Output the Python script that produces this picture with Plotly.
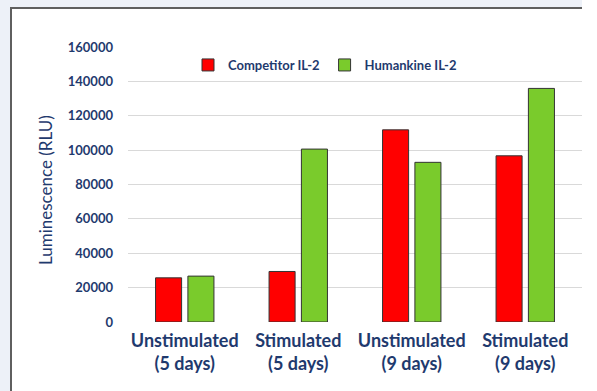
import plotly.graph_objects as go

# Luminescence readout per condition
categories = ["Unstimulated<br>(5 days)", "Stimulated<br>(5 days)",
              "Unstimulated<br>(9 days)", "Stimulated<br>(9 days)"]
competitor_il2 = [25700, 29400, 111800, 96700]
humankine_il2 = [26700, 100600, 92900, 135900]
y_ticks = [0, 20000, 40000, 60000, 80000, 100000, 120000, 140000, 160000]

NAVY = "#1f3a6e"
FRAME_BG = "#edf1f8"
W, H = 582, 391
ML, MR, MT, MB = 128, 0, 47, 69

fig = go.Figure()
fig.add_trace(go.Bar(
    name="Competitor IL-2", x=categories, y=competitor_il2,
    marker=dict(color="#ff0000", line=dict(color="#333333", width=1)),
))
fig.add_trace(go.Bar(
    name="Humankine IL-2", x=categories, y=humankine_il2,
    marker=dict(color="#7acb2c", line=dict(color="#333333", width=1)),
))

pw = W - ML - MR
ph = H - MT - MB


def px_x(px):
    return (px - ML) / pw


def px_y(py):
    return 1 - (py - MT) / ph


frame_shapes = [
    # light page strips above and left of the white panel
    dict(type="rect", xref="paper", yref="paper", layer="below",
         x0=px_x(-5), x1=px_x(W + 20), y0=px_y(7), y1=px_y(-5),
         fillcolor=FRAME_BG, line=dict(width=0)),
    dict(type="rect", xref="paper", yref="paper", layer="below",
         x0=px_x(-5), x1=px_x(10), y0=px_y(H + 5), y1=px_y(-5),
         fillcolor=FRAME_BG, line=dict(width=0)),
    # panel border
    dict(type="line", xref="paper", yref="paper", layer="below",
         x0=px_x(10), x1=px_x(W + 20), y0=px_y(8), y1=px_y(8),
         line=dict(color="#5f5f5f", width=2)),
    dict(type="line", xref="paper", yref="paper", layer="below",
         x0=px_x(11), x1=px_x(11), y0=px_y(7), y1=px_y(H + 5),
         line=dict(color="#5f5f5f", width=2)),
]

fig.update_layout(
    width=W, height=H,
    margin=dict(l=ML, r=MR, t=MT, b=MB, pad=0),
    paper_bgcolor="#ffffff",
    plot_bgcolor="rgba(0,0,0,0)",
    barmode="group",
    bargap=0.43,
    bargroupgap=0.195,
    font=dict(family="Lato", color=NAVY),
    showlegend=True,
    legend=dict(
        orientation="h",
        x=px_x(188), y=px_y(65), xanchor="left", yanchor="middle",
        font=dict(family="Lato", size=13, color=NAVY, weight="bold"),
        bgcolor="rgba(0,0,0,0)",
        itemwidth=30,
        tracegroupgap=0,
    ),
    xaxis=dict(
        showgrid=False, showline=False, zeroline=False, ticks="",
        ticklabelstandoff=6,
        tickfont=dict(family="Lato", size=18, color=NAVY, weight="bold"),
    ),
    yaxis=dict(
        range=[0, 160000], tickvals=y_ticks,
        ticktext=[str(v) for v in y_ticks],
        showgrid=True, gridcolor="#d9d9d9", gridwidth=1,
        zeroline=False, showline=False, ticks="",
        ticklabelstandoff=14,
        tickfont=dict(family="Lato", size=13, color=NAVY, weight="bold"),
    ),
    shapes=frame_shapes,
    annotations=[dict(
        text="Luminescence (RLU)", textangle=-90,
        xref="paper", yref="paper", x=px_x(45), y=px_y(190),
        xanchor="center", yanchor="middle", showarrow=False,
        font=dict(family="Lato", size=17, color=NAVY),
    )],
)

fig.write_html("out.html")
